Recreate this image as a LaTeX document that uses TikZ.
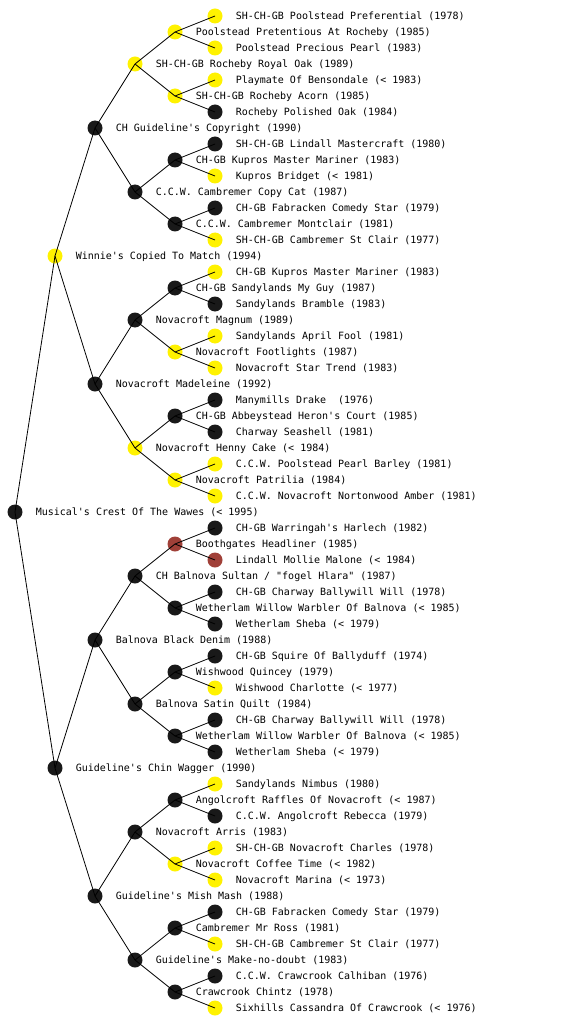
\documentclass[tikz,border=0pt]{standalone}
\usepackage{fontspec}
\usepackage{xcolor}
\usepackage{tikz}
\usetikzlibrary{positioning}
\newfontfamily\pedfont{DejaVu Sans Mono}
\definecolor{liver}{RGB}{160,64,56}

\begin{document}
\begin{tikzpicture}[
  x=1pt,y=-1pt,line width=0.8pt,
  font=\pedfont\fontsize{10}{12}\selectfont,
  dog/.style={circle,inner sep=0pt,minimum size=15pt},
  blk/.style={dog,fill=black!90},
  ylw/.style={dog,fill=yellow},
  brn/.style={dog,fill=liver},
  lbl/.style={inner sep=0pt,text height=8pt,text depth=1pt,label distance=12.5pt}
]
\useasboundingbox (0,0) rectangle (560,1024);
% root
\node[blk,label={[lbl]right:Musical's Crest Of The Wawes (< 1995)}] (r) at (15,512) {};
% upper half
\node[ylw,label={[lbl]right:Winnie's Copied To Match (1994)}] (r1) at (55,256) {};
\node[blk,label={[lbl]right:CH Guideline's Copyright (1990)}] (r11) at (95,128) {};
\node[blk,label={[lbl]right:Novacroft Madeleine (1992)}] (r12) at (95,384) {};
\node[ylw,label={[lbl]right:SH-CH-GB Rocheby Royal Oak (1989)}] (r111) at (135,64) {};
\node[blk,label={[lbl]right:C.C.W. Cambremer Copy Cat (1987)}] (r112) at (135,192) {};
\node[blk,label={[lbl]right:Novacroft Magnum (1989)}] (r121) at (135,320) {};
\node[ylw,label={[lbl]right:Novacroft Henny Cake (< 1984)}] (r122) at (135,448) {};
\node[ylw,label={[lbl]right:Poolstead Pretentious At Rocheby (1985)}] (r1111) at (175,32) {};
\node[ylw,label={[lbl]right:SH-CH-GB Rocheby Acorn (1985)}] (r1112) at (175,96) {};
\node[blk,label={[lbl]right:CH-GB Kupros Master Mariner (1983)}] (r1121) at (175,160) {};
\node[blk,label={[lbl]right:C.C.W. Cambremer Montclair (1981)}] (r1122) at (175,224) {};
\node[blk,label={[lbl]right:CH-GB Sandylands My Guy (1987)}] (r1211) at (175,288) {};
\node[ylw,label={[lbl]right:Novacroft Footlights (1987)}] (r1212) at (175,352) {};
\node[blk,label={[lbl]right:CH-GB Abbeystead Heron's Court (1985)}] (r1221) at (175,416) {};
\node[ylw,label={[lbl]right:Novacroft Patrilia (1984)}] (r1222) at (175,480) {};
\node[ylw,label={[lbl]right:SH-CH-GB Poolstead Preferential (1978)}] (r11111) at (215,16) {};
\node[ylw,label={[lbl]right:Poolstead Precious Pearl (1983)}] (r11112) at (215,48) {};
\node[ylw,label={[lbl]right:Playmate Of Bensondale (< 1983)}] (r11121) at (215,80) {};
\node[blk,label={[lbl]right:Rocheby Polished Oak (1984)}] (r11122) at (215,112) {};
\node[blk,label={[lbl]right:SH-CH-GB Lindall Mastercraft (1980)}] (r11211) at (215,144) {};
\node[ylw,label={[lbl]right:Kupros Bridget (< 1981)}] (r11212) at (215,176) {};
\node[blk,label={[lbl]right:CH-GB Fabracken Comedy Star (1979)}] (r11221) at (215,208) {};
\node[ylw,label={[lbl]right:SH-CH-GB Cambremer St Clair (1977)}] (r11222) at (215,240) {};
\node[ylw,label={[lbl]right:CH-GB Kupros Master Mariner (1983)}] (r12111) at (215,272) {};
\node[blk,label={[lbl]right:Sandylands Bramble (1983)}] (r12112) at (215,304) {};
\node[ylw,label={[lbl]right:Sandylands April Fool (1981)}] (r12121) at (215,336) {};
\node[ylw,label={[lbl]right:Novacroft Star Trend (1983)}] (r12122) at (215,368) {};
\node[blk,label={[lbl]right:Manymills Drake\ \ (1976)}] (r12211) at (215,400) {};
\node[blk,label={[lbl]right:Charway Seashell (1981)}] (r12212) at (215,432) {};
\node[ylw,label={[lbl]right:C.C.W. Poolstead Pearl Barley (1981)}] (r12221) at (215,464) {};
\node[ylw,label={[lbl]right:C.C.W. Novacroft Nortonwood Amber (1981)}] (r12222) at (215,496) {};
% lower half
\node[blk,label={[lbl]right:Guideline's Chin Wagger (1990)}] (r2) at (55,768) {};
\node[blk,label={[lbl]right:Balnova Black Denim (1988)}] (r21) at (95,640) {};
\node[blk,label={[lbl]right:Guideline's Mish Mash (1988)}] (r22) at (95,896) {};
\node[blk,label={[lbl]right:CH Balnova Sultan / "fogel Hlara" (1987)}] (r211) at (135,576) {};
\node[blk,label={[lbl]right:Balnova Satin Quilt (1984)}] (r212) at (135,704) {};
\node[blk,label={[lbl]right:Novacroft Arris (1983)}] (r221) at (135,832) {};
\node[blk,label={[lbl]right:Guideline's Make-no-doubt (1983)}] (r222) at (135,960) {};
\node[brn,label={[lbl]right:Boothgates Headliner (1985)}] (r2111) at (175,544) {};
\node[blk,label={[lbl]right:Wetherlam Willow Warbler Of Balnova (< 1985)}] (r2112) at (175,608) {};
\node[blk,label={[lbl]right:Wishwood Quincey (1979)}] (r2121) at (175,672) {};
\node[blk,label={[lbl]right:Wetherlam Willow Warbler Of Balnova (< 1985)}] (r2122) at (175,736) {};
\node[blk,label={[lbl]right:Angolcroft Raffles Of Novacroft (< 1987)}] (r2211) at (175,800) {};
\node[ylw,label={[lbl]right:Novacroft Coffee Time (< 1982)}] (r2212) at (175,864) {};
\node[blk,label={[lbl]right:Cambremer Mr Ross (1981)}] (r2221) at (175,928) {};
\node[blk,label={[lbl]right:Crawcrook Chintz (1978)}] (r2222) at (175,992) {};
\node[blk,label={[lbl]right:CH-GB Warringah's Harlech (1982)}] (r21111) at (215,528) {};
\node[brn,label={[lbl]right:Lindall Mollie Malone (< 1984)}] (r21112) at (215,560) {};
\node[blk,label={[lbl]right:CH-GB Charway Ballywill Will (1978)}] (r21121) at (215,592) {};
\node[blk,label={[lbl]right:Wetherlam Sheba (< 1979)}] (r21122) at (215,624) {};
\node[blk,label={[lbl]right:CH-GB Squire Of Ballyduff (1974)}] (r21211) at (215,656) {};
\node[ylw,label={[lbl]right:Wishwood Charlotte (< 1977)}] (r21212) at (215,688) {};
\node[blk,label={[lbl]right:CH-GB Charway Ballywill Will (1978)}] (r21221) at (215,720) {};
\node[blk,label={[lbl]right:Wetherlam Sheba (< 1979)}] (r21222) at (215,752) {};
\node[ylw,label={[lbl]right:Sandylands Nimbus (1980)}] (r22111) at (215,784) {};
\node[blk,label={[lbl]right:C.C.W. Angolcroft Rebecca (1979)}] (r22112) at (215,816) {};
\node[ylw,label={[lbl]right:SH-CH-GB Novacroft Charles (1978)}] (r22121) at (215,848) {};
\node[ylw,label={[lbl]right:Novacroft Marina (< 1973)}] (r22122) at (215,880) {};
\node[blk,label={[lbl]right:CH-GB Fabracken Comedy Star (1979)}] (r22211) at (215,912) {};
\node[ylw,label={[lbl]right:SH-CH-GB Cambremer St Clair (1977)}] (r22212) at (215,944) {};
\node[blk,label={[lbl]right:C.C.W. Crawcrook Calhiban (1976)}] (r22221) at (215,976) {};
\node[ylw,label={[lbl]right:Sixhills Cassandra Of Crawcrook (< 1976)}] (r22222) at (215,1008) {};
% parent to sire and dam
\foreach \p in {r,r1,r2,r11,r12,r21,r22,r111,r112,r121,r122,r211,r212,r221,r222,
  r1111,r1112,r1121,r1122,r1211,r1212,r1221,r1222,
  r2111,r2112,r2121,r2122,r2211,r2212,r2221,r2222}
  \draw (\p.center) -- (\p1.center) (\p.center) -- (\p2.center);
\end{tikzpicture}
\end{document}
